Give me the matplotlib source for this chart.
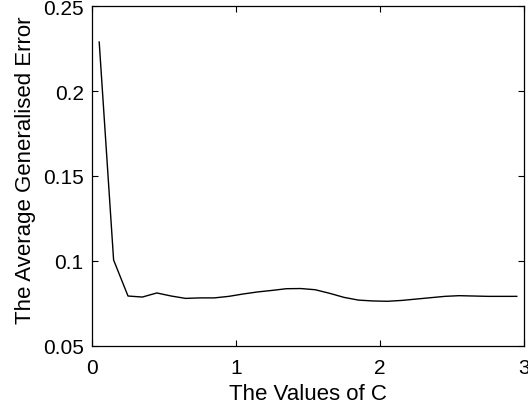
import matplotlib.pyplot as plt

plt.rcParams['font.family'] = ['Liberation Sans', 'DejaVu Sans']

# values of C and the mean generalisation error
c_values = [0.05, 0.15, 0.25, 0.35, 0.45, 0.55, 0.65, 0.75, 0.85, 0.95,
            1.05, 1.15, 1.25, 1.35, 1.45, 1.55, 1.65, 1.75, 1.85, 1.95,
            2.05, 2.15, 2.25, 2.35, 2.45, 2.55, 2.65, 2.75, 2.85, 2.95]
avg_error = [0.2288, 0.1006, 0.0794, 0.0788, 0.0812, 0.0794, 0.0780, 0.0783, 0.0783, 0.0792,
             0.0806, 0.0818, 0.0827, 0.0837, 0.0838, 0.0831, 0.0810, 0.0786, 0.0770, 0.0765,
             0.0763, 0.0768, 0.0776, 0.0784, 0.0792, 0.0796, 0.0794, 0.0792, 0.0792, 0.0792]

x_ticks = [0, 1, 2, 3]
y_ticks = [0.05, 0.1, 0.15, 0.2, 0.25]
y_tick_labels = ['0.05', '0.1', '0.15', '0.2', '0.25']

fig = plt.figure(figsize=(5.28, 4.14), dpi=100)
ax = fig.add_axes([92 / 528, 67 / 414, 432 / 528, 340 / 414])

ax.plot(c_values, avg_error, color='black', linewidth=1.0)

ax.set_xlim(0, 3)
ax.set_ylim(0.05, 0.25)
ax.set_xticks(x_ticks)
ax.set_xticklabels([str(t) for t in x_ticks])
ax.set_yticks(y_ticks)
ax.set_yticklabels(y_tick_labels)
ax.tick_params(direction='in', length=4, width=0.8, top=True, right=True,
               labelsize=15)
ax.tick_params(axis='y', pad=6)
ax.tick_params(axis='x', pad=9)
for s in ax.spines.values():
    s.set_linewidth(0.9)

ax.set_xlabel('The Values of C', fontsize=16)
ax.set_ylabel('The Average Generalised Error', fontsize=16)
# put the axis titles where the reference has them (MATLAB-like offsets)
ax.xaxis.set_label_coords(0.5, -0.108)
ax.yaxis.set_label_coords(-0.130, 0.519)

fig.savefig('out.png', dpi=100)
